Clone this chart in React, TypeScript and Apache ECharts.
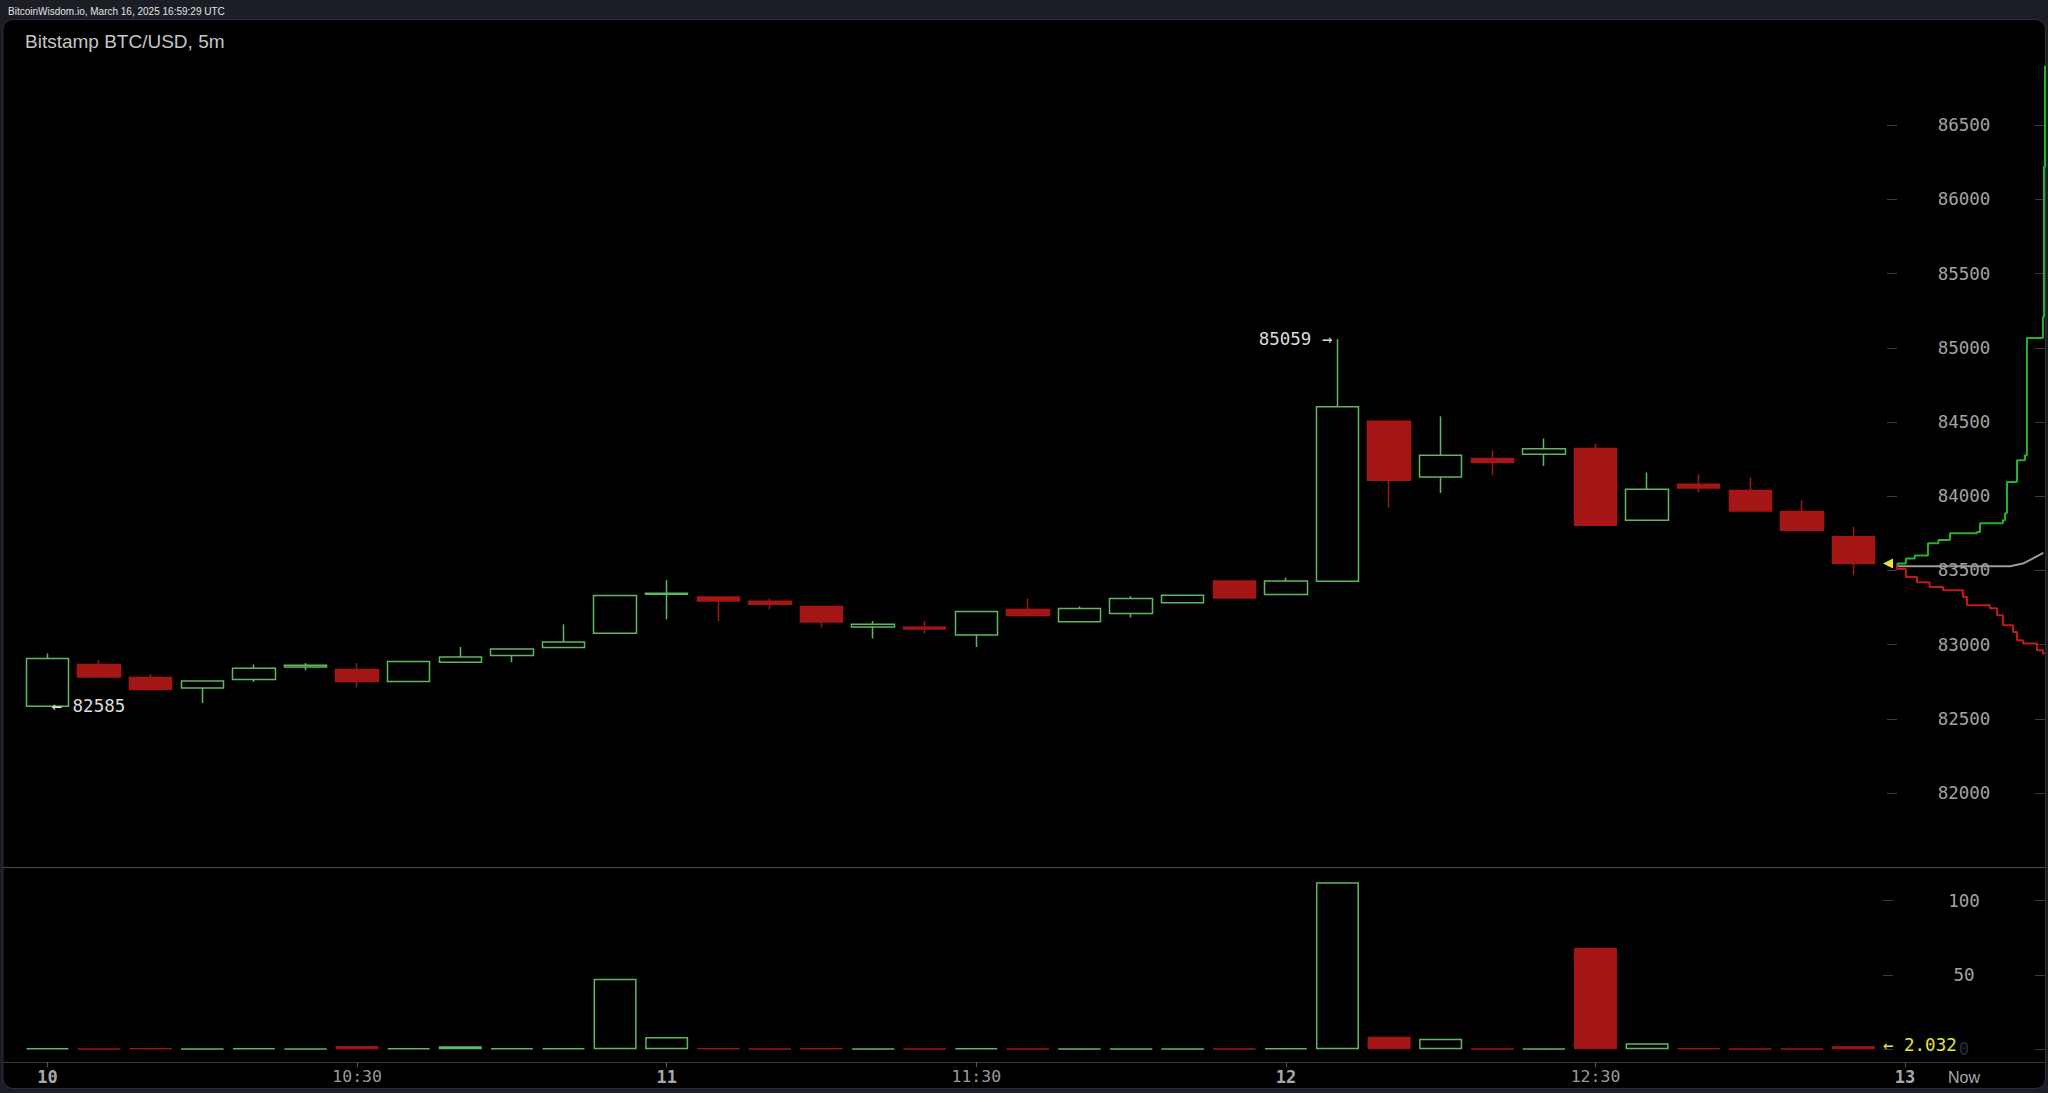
import React, { useEffect, useRef } from 'react';
import * as echarts from 'echarts';

// ---- data ----
const times = ['10:00','10:05','10:10','10:15','10:20','10:25','10:30','10:35','10:40','10:45','10:50','10:55','11:00','11:05','11:10','11:15','11:20','11:25','11:30','11:35','11:40','11:45','11:50','11:55','12:00','12:05','12:10','12:15','12:20','12:25','12:30','12:35','12:40','12:45','12:50','12:55'];
const opens = [82585,82866,82778,82708,82765,82849,82832,82751,82881,82926,82980,83077,83339,83321,83292,83257,83119,83117,83065,83236,83155,83209,83283,83429,83337,83427,84505,84130,84254,84283,84321,83838,84081,84038,83897,83726];
const closes = [82906,82782,82697,82755,82841,82861,82751,82886,82917,82971,83018,83331,83346,83294,83272,83153,83137,83106,83223,83196,83243,83310,83333,83314,83429,84602,84108,84276,84227,84319,83804,84047,84056,83901,83771,83546];
const lows = [82585,82780,82695,82607,82748,82827,82711,82751,82880,82881,82980,83077,83171,83159,83238,83115,83041,83075,82984,83195,83155,83182,83283,83314,83337,83427,83924,84022,84141,84204,83804,83838,84029,83900,83770,83467];
const highs = [82940,82895,82800,82757,82866,82876,82876,82886,82984,82972,83137,83331,83434,83325,83310,83260,83159,83159,83223,83310,83257,83326,83333,83429,83452,85059,84505,84539,84310,84389,84355,84159,84148,84126,83973,83793];
const volumes = [0.8,0.3,0.8,0.3,0.8,0.3,2.2,0.8,2.0,0.8,0.8,47.5,8.3,0.8,0.4,0.8,0.4,0.4,0.8,0.4,0.4,0.4,0.4,0.4,0.8,112.4,8.5,7.1,0.4,0.4,68.2,4.0,0.8,0.4,0.4,2.032];
const lastVolumeText = '2.032';

const priceTicks = [82000,82500,83000,83500,84000,84500,85000,85500,86000,86500];
const volumeTicks = [0,50,100];
const timeTicks = ['10:00','10:30','11:00','11:30','12:00','12:30','13:00'];
const timeTickLabels = ['10','10:30','11','11:30','12','12:30','13'];

// market depth overlay (cumulative amount, price)
const askAmounts = [0,6,12,20.9,28,35.8,54.1,56.1,71.6,73.0,74.3,81.1,81.1,86.5,87.8,87.8,98.6,99.3,99.3,100];
const askPrices = [83546,83580,83600,83683,83705,83750,83759,83818,83838,83885,84096,84096,84242,84276,84492,85065,85208,85343,86219,86900];
const bidAmounts = [0,6,13.5,22,31.1,44.6,47.3,62.8,67.6,71.6,78.4,81.1,85.1,94.6,98.6,100];
const bidPrices = [83546,83510,83456,83420,83389,83366,83321,83265,83245,83198,83130,83085,83029,83007,82962,82940];
const midAmounts = [0,1,76.4,85.1,98.9];
const midPrices = [83546,83528,83528,83546,83618];

const toMinutes = (t: string) => {
  const [h, m] = t.split(':').map(Number);
  return (h - 10) * 60 + m;
};

const MONO = 'DejaVu Sans Mono';
const SANS = 'Liberation Sans';
const GREEN = '#5fb85f';
const RED = '#a51616';

export default function App() {
  const ref = useRef<HTMLDivElement>(null);

  useEffect(() => {
    document.body.style.margin = '0';
    document.body.style.background = '#1b1e25';
    if (!ref.current) return;
    const chart = echarts.init(ref.current, undefined, { renderer: 'svg' });

    const xs = times.map(toMinutes);
    const candleData = times.map((t, i) => [xs[i], opens[i], closes[i], lows[i], highs[i]]);
    const volData = times.map((t, i) => {
      const up = closes[i] >= opens[i];
      return {
        value: [xs[i], volumes[i]],
        itemStyle: up
          ? { color: 'rgba(0,0,0,0)', borderColor: GREEN, borderWidth: 1.5 }
          : { color: RED, borderColor: RED, borderWidth: 1 },
      };
    });
    const maxHigh = Math.max(...highs);
    const maxIdx = highs.indexOf(maxHigh);
    const minLow = Math.min(...lows);
    const minIdx = lows.indexOf(minLow);
    const last = times.length - 1;
    const tickMinutes = timeTicks.map(toMinutes);

    const X_MIN = -4.312;
    const X_MAX = 193.56;
    const P_MIN = 81500;
    const P_MAX = 87208;
    const V_MAX = 122.5;

    const tickStyle = { color: '#3d3d3d', width: 1 };
    const dashAxis = (grid: number, min: number, max: number, ticks: number[], inside: boolean, offset: number) => ({
      type: 'value', gridIndex: grid, position: 'left', offset, min, max,
      axisLine: { show: false }, splitLine: { show: false }, axisLabel: { show: false },
      axisTick: { show: true, inside, length: 10, lineStyle: tickStyle, customValues: ticks },
    });

    const option: any = {
      animation: false,
      backgroundColor: 'transparent',
      title: [
        {
          text: 'BitcoinWisdom.io, March 16, 2025 16:59:29 UTC',
          left: 8, top: 6, padding: 0,
          textStyle: { color: '#e2e2e2', fontSize: 10, fontWeight: 'normal', fontFamily: SANS },
        },
        {
          text: 'Bitstamp BTC/USD, 5m',
          left: 25, top: 32, padding: 0,
          textStyle: { color: '#c6c6c6', fontSize: 19, fontWeight: 'normal', fontFamily: SANS },
        },
      ],
      graphic: [
        {
          type: 'rect', z: -100, silent: true,
          shape: { x: 3, y: 19.5, width: 2042.5, height: 1069, r: 10 },
          style: { fill: '#000000', stroke: '#2b2f39', lineWidth: 1 },
        },
        {
          type: 'text', x: 1964, y: 1077,
          style: { text: 'Now', fill: '#a8a8a8', fontSize: 16, fontFamily: SANS, align: 'center', verticalAlign: 'middle' },
        },
      ],
      grid: [
        { left: 3, right: 3, top: 20, bottom: 225.7 },
        { left: 3, right: 3, top: 867.3, bottom: 43.7 },
        { left: 1897, right: 3, top: 20, bottom: 225.7 },
        { left: 1893, right: 3, top: 867.3, bottom: 43.7 },
        { left: 2035, right: 3, top: 20, bottom: 225.7 },
        { left: 2035, right: 3, top: 867.3, bottom: 43.7 },
      ],
      xAxis: [
        {
          type: 'value', gridIndex: 0, min: X_MIN, max: X_MAX,
          axisLine: { show: true, onZero: false, lineStyle: { color: '#4d4d4d', width: 1 } },
          axisTick: { show: false }, axisLabel: { show: false }, splitLine: { show: false },
        },
        {
          type: 'value', gridIndex: 1, min: X_MIN, max: X_MAX, position: 'bottom', offset: 13,
          axisLine: { show: true, onZero: false, lineStyle: { color: '#383838', width: 1 } },
          axisTick: { show: true, length: 5, lineStyle: { color: '#555' }, customValues: tickMinutes },
          axisLabel: {
            show: true, margin: 6, customValues: tickMinutes,
            formatter: (v: number) => {
              const idx = tickMinutes.indexOf(v);
              if (idx < 0) return '';
              const lab = timeTickLabels[idx];
              return lab.includes(':') ? `{n|${lab}}` : `{h|${lab}}`;
            },
            rich: {
              h: { fontFamily: MONO, fontWeight: 'bold', fontSize: 17, color: '#a8a8a8' },
              n: { fontFamily: MONO, fontSize: 16.5, color: '#9a9a9a' },
            },
          },
          splitLine: { show: false },
        },
        { type: 'value', gridIndex: 2, min: 0, max: 100, show: false },
        { type: 'value', gridIndex: 3, min: 0, max: 100, show: false },
        { type: 'value', gridIndex: 4, min: 0, max: 1, show: false },
        { type: 'value', gridIndex: 5, min: 0, max: 1, show: false },
      ],
      yAxis: [
        {
          type: 'value', gridIndex: 0, position: 'right', min: P_MIN, max: P_MAX,
          axisLine: { show: false }, splitLine: { show: false }, axisTick: { show: false },
          axisLabel: {
            show: true, inside: true, margin: 81, align: 'center', customValues: priceTicks,
            formatter: (v: number) => String(v),
            color: '#a3a3a3', fontFamily: MONO, fontSize: 17.5,
          },
        },
        {
          type: 'value', gridIndex: 1, position: 'right', min: 0, max: V_MAX,
          axisLine: { show: false }, splitLine: { show: false }, axisTick: { show: false },
          axisLabel: {
            show: true, inside: true, margin: 81, align: 'center', customValues: volumeTicks,
            formatter: (v: number) => (Number(v) === 0 ? '{d|0}' : `{n|${v}}`),
            rich: {
              d: { color: '#262c3c', fontFamily: MONO, fontSize: 17.5 },
              n: { color: '#a3a3a3', fontFamily: MONO, fontSize: 17.5 },
            },
          },
        },
        dashAxis(2, P_MIN, P_MAX, priceTicks, false, 4),
        dashAxis(3, 0, V_MAX, volumeTicks, false, 0),
        dashAxis(4, P_MIN, P_MAX, priceTicks, true, 0),
        dashAxis(5, 0, V_MAX, volumeTicks, true, 0),
      ],
      series: [
        {
          type: 'candlestick', xAxisIndex: 0, yAxisIndex: 0,
          data: candleData, encode: { x: 0, y: [1, 2, 3, 4] },
          barWidth: 43,
          itemStyle: { color: 'rgba(0,0,0,0)', color0: RED, borderColor: GREEN, borderColor0: RED, borderWidth: 1.5 },
          markPoint: {
            symbol: 'circle', symbolSize: 0, silent: true,
            data: [
              {
                coord: [xs[maxIdx], maxHigh],
                label: {
                  show: true, position: 'left', distance: 5, formatter: `${maxHigh} \u2192`,
                  color: '#dcdcdc', fontFamily: MONO, fontSize: 17.5,
                },
              },
              {
                coord: [xs[minIdx], minLow],
                label: {
                  show: true, position: 'right', distance: 4, formatter: `\u2190 ${minLow}`,
                  color: '#dcdcdc', fontFamily: MONO, fontSize: 17.5,
                },
              },
            ],
          },
        },
        {
          type: 'bar', xAxisIndex: 1, yAxisIndex: 1, barWidth: 43,
          data: volData,
          markPoint: {
            symbol: 'circle', symbolSize: 0, silent: true,
            data: [
              {
                coord: [xs[last], volumes[last]],
                label: {
                  show: true, position: 'right', distance: 29.5, offset: [0, -1],
                  formatter: `\u2190 ${lastVolumeText}`,
                  color: '#e6e640', fontFamily: MONO, fontSize: 17.5,
                },
              },
            ],
          },
        },
        {
          type: 'line', xAxisIndex: 2, yAxisIndex: 2, showSymbol: false, silent: true,
          data: midAmounts.map((a, i) => [a, midPrices[i]]),
          lineStyle: { color: '#9b9b9b', width: 2 },
          markPoint: {
            symbol: 'triangle', symbolSize: 10, symbolRotate: 90, symbolOffset: [-9, 0], silent: true,
            itemStyle: { color: '#e4e43c' },
            label: { show: false },
            data: [{ coord: [midAmounts[0], midPrices[0]] }],
          },
        },
        {
          type: 'line', xAxisIndex: 2, yAxisIndex: 2, showSymbol: false, silent: true, step: 'start',
          data: bidAmounts.map((a, i) => [a, bidPrices[i]]),
          lineStyle: { color: '#c21a1a', width: 2 },
        },
        {
          type: 'line', xAxisIndex: 2, yAxisIndex: 2, showSymbol: false, silent: true, step: 'end',
          data: askAmounts.map((a, i) => [a, askPrices[i]]),
          lineStyle: { color: '#27b227', width: 2 },
        },
      ],
    };

    chart.setOption(option);
    return () => chart.dispose();
  }, []);

  return <div ref={ref} style={{ width: 2048, height: 1093, background: '#1b1e25' }} />;
}
